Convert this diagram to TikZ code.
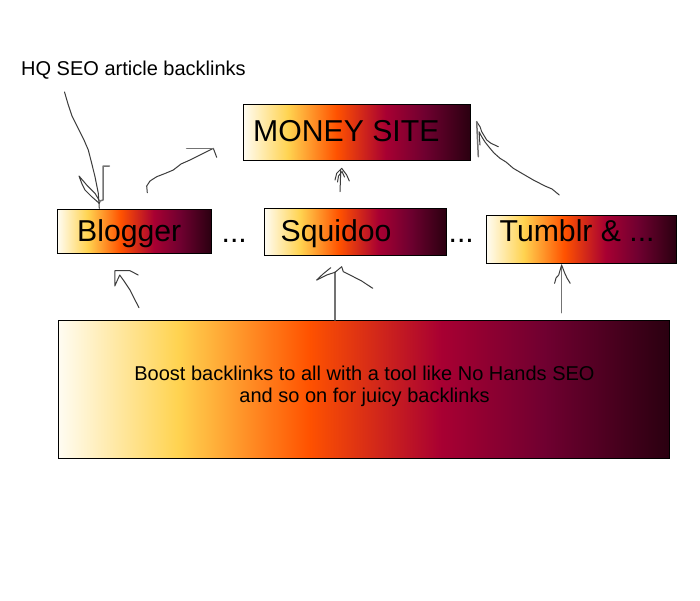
\documentclass[tikz,border=0pt]{standalone}
\usepackage{fontspec}
\setmainfont{Liberation Sans}
\definecolor{hw}{RGB}{255,252,242}
\definecolor{hy}{RGB}{255,211,80}
\definecolor{ho}{RGB}{255,82,0}
\definecolor{hc}{RGB}{168,0,50}
\definecolor{hm}{RGB}{112,0,48}
\definecolor{hd}{RGB}{42,0,16}
\definecolor{pen}{RGB}{60,60,60}
\definecolor{penl}{RGB}{115,115,115}
\pgfdeclarehorizontalshading{heat}{100bp}{color(0bp)=(hw); color(25bp)=(hw); color(34.8bp)=(hy); color(45.5bp)=(ho); color(56.3bp)=(hc); color(64.75bp)=(hm); color(75bp)=(hd); color(100bp)=(hd)}
\tikzset{
  heatbox/.style={draw=black, line width=0.9pt, shading=heat, inner sep=0pt, anchor=north west},
  lbl/.style={inner sep=0pt, anchor=base west},
  bigfont/.style={font=\fontsize{30.2}{34}\selectfont},
  scribble/.style={draw=pen, line width=1pt, line join=round, line cap=round},
  scribblel/.style={draw=penl, line width=1.5pt, line join=round, line cap=round}
}
\begin{document}
\begin{tikzpicture}[x=1pt,y=-1pt]
\useasboundingbox (0,0) rectangle (700,600);
\fill[white] (0,0) rectangle (700,600);

% boxes
\node[heatbox, minimum width=227pt, minimum height=56pt] (money) at (243,104) {};
\node[heatbox, minimum width=154pt, minimum height=44pt] (blogger) at (57,209) {};
\node[heatbox, minimum width=182pt, minimum height=47pt] (squidoo) at (264,208) {};
\node[heatbox, minimum width=190pt, minimum height=48pt] (tumblr) at (486,215) {};
\node[heatbox, minimum width=611pt, minimum height=138pt] (boost) at (58,320) {};

% texts
\node[lbl, font=\fontsize{20}{24}\selectfont] (hq) at (21,75) {HQ SEO article backlinks};
\node[lbl, bigfont] (moneyt) at (253,141.5) {MONEY SITE};
\node[lbl, bigfont] (bloggert) at (77,241) {Blogger};
\node[lbl, bigfont] (squidoot) at (280.5,241) {Squidoo};
\node[lbl, bigfont] (tumblrt) at (499.5,241) {Tumblr \& ...};
\node[lbl, bigfont] (dots1) at (221.5,242) {...};
\node[lbl, bigfont] (dots2) at (448.5,242) {...};
\node[inner sep=0pt, align=center, font=\fontsize{20}{22}\selectfont] (boostt) at (364.5,386.8)
  {Boost backlinks to all with a tool like No Hands SEO\\and so on for juicy backlinks};

% HQ -> Blogger
\draw[scribble] (64.5,92) -- (68,104) -- (72,116) -- (78,128) -- (84,140) -- (88.3,150) -- (91.7,163.3) -- (95,176.7) -- (98.3,193.3) -- (99.3,208.3);
\draw[scribble] (79,176) -- (82,184) -- (85,190) -- (91.7,196.7) -- (99.3,203.3) -- (100,201.7) -- (95,193.3) -- (86.7,185) -- cycle;
\draw[scribblel] (109.3,166) -- (103,166) -- (103,200) -- (98.5,201.5);

% Blogger -> Money
\draw[scribble] (147.3,192.7) -- (146.7,186) -- (150,181) -- (156.7,176.7) -- (165,173.5) -- (173.3,170) -- (181,164) -- (190,160) -- (200,155) -- (213.3,148.3) -- (216.7,157.3);
\draw[scribblel] (186.7,148.3) -- (213.3,148.3);

% Squidoo -> Money
\draw[scribble] (340,191.7) -- (340.4,181) -- (340.7,170);
\draw[scribble] (335,180) -- (336.7,173.3) -- (341.7,168.3) -- (346.7,175) -- (349.3,181);
\draw[scribble] (337.5,182) -- (338.5,176) -- (342,171.5) -- (344.5,177);

% Tumblr -> Money
\draw[scribble] (559.3,195) -- (552,189) -- (545,186) -- (533.3,180) -- (523,174) -- (513.3,168.3) -- (506,162) -- (500,158.3) -- (494,153) -- (490,148.3) -- (485,142) -- (481.7,136.7) -- (479,131.7) -- (480,145);
\draw[scribble] (476.7,121.7) -- (480,126.7) -- (481.7,131.7) -- (486.7,140) -- (491,143.3) -- (498.3,146.7);
\draw[scribblel] (476.7,121.7) -- (478.3,156.7);

% Boost -> Blogger
\draw[scribble] (139,307.7) -- (134,298) -- (130,290) -- (124,281) -- (119.7,275) -- (114.8,286) -- (114.8,270.7) -- (130,270.7) -- (138.2,275);

% Boost -> Squidoo
\draw[scribblel] (335,320) -- (335,272.3);
\draw[scribble] (316.7,280) -- (326.7,275) -- (335,272.3) -- (341.7,266.7) -- (343.3,271.7) -- (353.3,276.7) -- (361.7,281) -- (372.7,288.3);
\draw[scribble] (316.7,280) -- (323,274) -- (330.7,267.7);

% Boost -> Tumblr
\draw[scribblel] (561.6,312.7) -- (561.6,265);
\draw[scribble] (554.6,283.3) -- (556,278) -- (558.7,275) -- (561.6,265) -- (564.8,273.3) -- (567,278) -- (570.2,283.3);
\end{tikzpicture}
\end{document}
